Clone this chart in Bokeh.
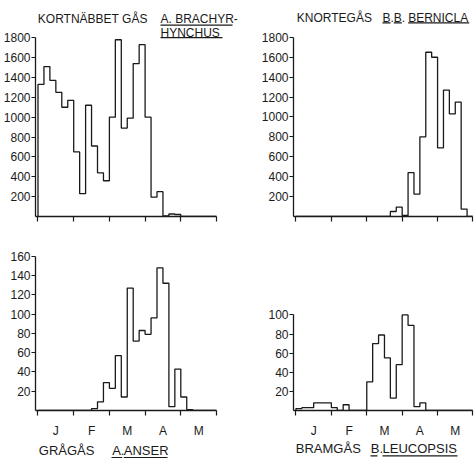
from bokeh.plotting import figure
from bokeh.layouts import gridplot
from bokeh.models import FixedTicker, Label, BoxAnnotation, Range1d
from bokeh.embed import file_html
from bokeh.resources import INLINE

# ---------------- data (five-day periods, January - May) ----------------
months = ["J", "F", "M", "A", "M"]
bins_per_month = 6
n_bins = 30

brachyrhynchus = [1330, 1510, 1370, 1250, 1100, 1170, 650, 230, 1120, 710, 440, 360,
                  1000, 1780, 890, 990, 1540, 1730, 1000, 195, 250, 5, 25, 20,
                  0, 0, 0, 0, 0, 0]
bernicla = [0, 0, 0, 0, 0, 0, 0, 0, 0, 0, 0, 0, 0, 0, 0, 0,
            50, 95, 10, 440, 225, 800, 1650, 1600, 690, 1270, 1030, 1150, 75, 0]
anser = [0, 0, 0, 0, 0, 0, 0, 0, 0,
         2, 9, 29, 23, 57, 14, 127, 72, 83, 79, 96, 148, 132, 4, 43, 14, 1,
         0, 0, 0, 0]
leucopsis = [2, 3, 3, 8, 8, 8, 3, 0, 6, 0, 0, 0,
             30, 70, 79, 55, 13, 48, 100, 89, 4, 8,
             0, 0, 0, 0, 0, 0, 0, 0]

yticks_brachyrhynchus = [200, 400, 600, 800, 1000, 1200, 1400, 1600, 1800]
yticks_bernicla = [200, 400, 600, 800, 1000, 1200, 1400, 1600, 1800]
yticks_anser = [20, 40, 60, 80, 100, 120, 140, 160]
yticks_leucopsis = [20, 40, 60, 80, 100]

FONT = "Liberation Sans"
INK = "#1a1a1a"
X0 = -0.42


def make_panel(values, yticks, width, height, mb_left, mb_bottom, x_end, y_end, with_months):
    p = figure(width=width, height=height,
               x_range=Range1d(X0, x_end), y_range=Range1d(0, y_end),
               output_backend="svg", toolbar_location=None,
               min_border_left=mb_left, min_border_right=0,
               min_border_top=0, min_border_bottom=mb_bottom)
    p.outline_line_color = None
    p.grid.visible = False
    p.background_fill_color = "white"
    p.border_fill_color = "white"

    xs = [0] + list(range(n_bins)) + [n_bins]
    ys = [0] + list(values) + [0]
    p.step(xs, ys, mode="after", line_color=INK, line_width=1.3)

    ya = p.yaxis[0]
    ya.ticker = FixedTicker(ticks=yticks, minor_ticks=[])
    ya.bounds = (0, max(yticks))
    ya.axis_line_color = INK
    ya.axis_line_width = 1.3
    ya.major_tick_line_color = INK
    ya.major_tick_line_width = 1.2
    ya.major_tick_in = 0
    ya.major_tick_out = 4
    ya.minor_tick_line_color = None
    ya.major_label_standoff = 1
    ya.major_label_text_font = FONT
    ya.major_label_text_font_size = "12px"
    ya.major_label_text_color = INK

    boundaries = [m * bins_per_month for m in range(len(months) + 1)]
    mids = [m * bins_per_month + bins_per_month // 2 for m in range(len(months))]
    xa = p.xaxis[0]
    xa.ticker = FixedTicker(ticks=mids if with_months else [], minor_ticks=boundaries)
    xa.bounds = (X0, n_bins)
    xa.axis_line_color = INK
    xa.axis_line_width = 1.3
    xa.major_tick_line_color = None
    xa.major_tick_in = 0
    xa.major_tick_out = 0
    xa.minor_tick_line_color = INK
    xa.minor_tick_line_width = 1.2
    xa.minor_tick_in = 0
    xa.minor_tick_out = 5
    xa.major_label_standoff = 8
    xa.major_label_text_font = FONT
    xa.major_label_text_font_size = "12px"
    xa.major_label_text_color = INK
    if with_months:
        xa.major_label_overrides = {t: lab for t, lab in zip(mids, months)}
    return p


def text_holder(width, height):
    p = figure(width=width, height=height, x_range=Range1d(0, width), y_range=Range1d(0, height),
               output_backend="svg", toolbar_location=None,
               x_axis_location=None, y_axis_location=None,
               min_border_left=0, min_border_right=0, min_border_top=0, min_border_bottom=0)
    p.outline_line_color = None
    p.grid.visible = False
    p.background_fill_color = "white"
    p.border_fill_color = "white"
    return p


def add_text(p, sx, sy, text, size="12px"):
    p.add_layout(Label(x=sx, y=sy, x_units="screen", y_units="screen", text=text,
                       text_font=FONT, text_font_size=size, text_color=INK,
                       text_baseline="middle", text_align="left"))


def add_underline(p, left, right, top, bottom):
    p.add_layout(BoxAnnotation(left=left, right=right, top=top, bottom=bottom,
                               left_units="screen", right_units="screen",
                               top_units="screen", bottom_units="screen",
                               fill_color=INK, fill_alpha=1.0,
                               line_color=None, line_alpha=0))


LEFT_W, RIGHT_W = 242, 232
p1 = make_panel(brachyrhynchus, yticks_brachyrhynchus, LEFT_W, 228, 35, 12, 34.37, 2175, False)
p2 = make_panel(bernicla, yticks_bernicla, RIGHT_W, 228, 51, 11, 30.26, 2170, False)
p3 = make_panel(anser, yticks_anser, LEFT_W, 212, 35, 24, 34.37, 188.8, True)
p4 = make_panel(leucopsis, yticks_leucopsis, RIGHT_W, 212, 51, 24, 30.26, 190.5, True)
t3 = text_holder(LEFT_W, 18)
t4 = text_holder(RIGHT_W, 18)

# titles (top panels: inside the frame)
add_text(p1, 2.3, 198, "KORTNÄBBET GÅS")
add_text(p1, 125, 198, "A. BRACHYR-")
add_text(p1, 125, 184, "HYNCHUS")
add_underline(p1, 125, 197, 192, 190.7)
add_underline(p1, 125, 187, 179.5, 178.2)

add_text(p2, 3.3, 198.6, "KNORTEGÅS")
add_text(p2, 89, 198.6, "B.B.")
add_text(p2, 114.7, 198.6, "BERNICLA")
add_underline(p2, 89, 97, 194.2, 192.9)
add_underline(p2, 100.3, 108.3, 194.2, 192.9)
add_underline(p2, 114.7, 175.7, 194.2, 192.9)

# species names below the month labels (frames are aligned with the panels above)
add_text(t3, 3.3, 8, "GRÅGÅS", "13px")
add_text(t3, 76.7, 8, "A.", "13px")
add_text(t3, 88.3, 8, "ANSER", "13px")
add_underline(t3, 76, 86.7, 1.5, 0.2)
add_underline(t3, 88.3, 132, 1.5, 0.2)

add_text(t4, 2.3, 10, "BRAMGÅS", "13px")
add_text(t4, 77.3, 10, "B.", "13px")
add_text(t4, 89, 10, "LEUCOPSIS", "13px")
add_underline(t4, 77, 84, 3.3, 2)
add_underline(t4, 89, 164, 3.3, 2)

grid = gridplot([[p1, p2], [p3, p4], [t3, t4]], toolbar_location=None)

open("out.html", "w").write(file_html(grid, INLINE))
